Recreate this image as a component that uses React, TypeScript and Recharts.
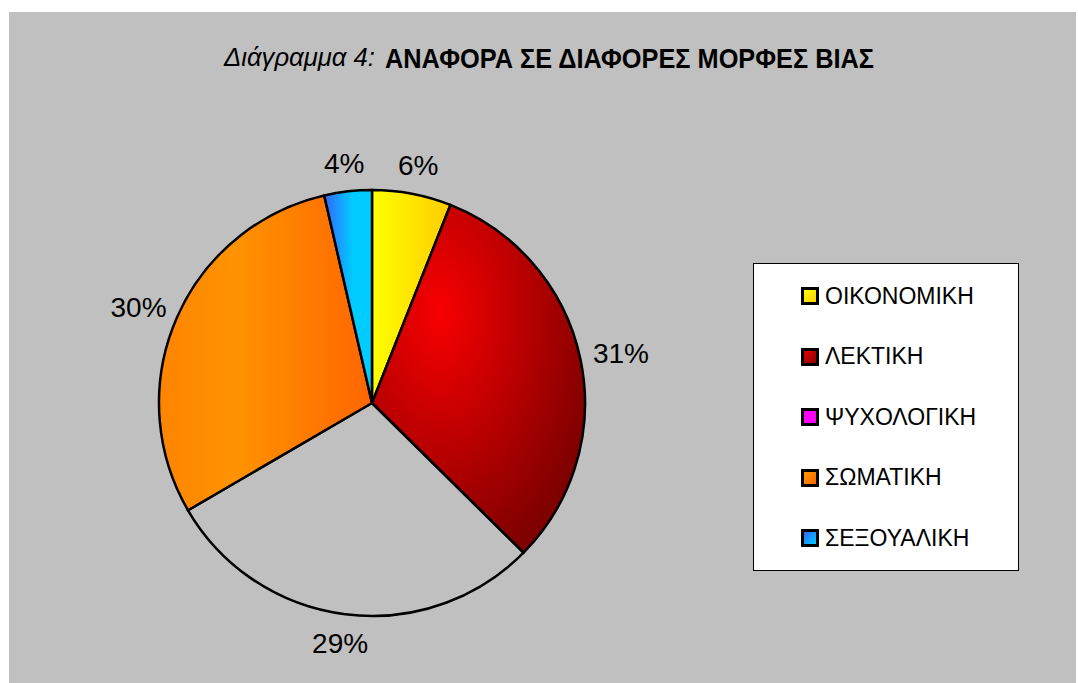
import { PieChart, Pie, Cell, Legend } from "recharts";

// ─── Data ─────────────────────────────────────────────────────────────────────

const categories = ["ΟΙΚΟΝΟΜΙΚΗ", "ΛΕΚΤΙΚΗ", "ΨΥΧΟΛΟΓΙΚΗ", "ΣΩΜΑΤΙΚΗ", "ΣΕΞΟΥΑΛΙΚΗ"];
const shares = [6.0, 31.4, 29.2, 29.8, 3.6];

const sliceFills = ["url(#gYellow)", "url(#gRed)", "transparent", "url(#gOrange)", "url(#gBlue)"];
const legendFills = [
  "linear-gradient(135deg, #ffff00, #ffcc00)",
  "linear-gradient(135deg, #e00000, #900000)",
  "#ff00ff",
  "linear-gradient(135deg, #ff9900, #ff6600)",
  "linear-gradient(135deg, #3366ff, #00ccff)",
];

const pieData = categories.map((name, i) => ({ name, value: shares[i] }));

const FONT = "'Liberation Sans', Arial, sans-serif";
const NARROW = "'Liberation Sans Narrow', 'Liberation Sans', Arial, sans-serif";
const RADIAN = Math.PI / 180;

// ─── Labels ───────────────────────────────────────────────────────────────────

const renderLabel = (props: any) => {
  const { cx, cy, midAngle, outerRadius, percent } = props;
  const dx = Math.cos(-midAngle * RADIAN);
  const dy = Math.sin(-midAngle * RADIAN);
  const text = `${Math.round(percent * 100)}%`;
  const halfW = (text.length * 15.6) / 2;
  const x = cx + dx * (outerRadius + 18) + dx * halfW;
  const y = cy + dy * (outerRadius + 18) + dy * 11;
  return (
    <text x={x} y={y + 10} textAnchor="middle" fontFamily={FONT} fontSize={28} fill="#000">
      {text}
    </text>
  );
};

// ─── Legend ───────────────────────────────────────────────────────────────────

const renderLegend = () => (
  <div
    style={{
      width: 264,
      height: 306,
      background: "#fff",
      border: "1px solid #000",
      position: "relative",
      fontFamily: FONT,
    }}
  >
    {categories.map((c, i) => (
      <div
        key={c}
        style={{
          position: "absolute",
          left: 47,
          top: 32 + i * 60.5 - 12,
          height: 24,
          display: "flex",
          alignItems: "center",
          whiteSpace: "nowrap",
        }}
      >
        <span
          style={{
            display: "inline-block",
            width: 12,
            height: 12,
            border: "3px solid #000",
            background: legendFills[i],
          }}
        />
        <span style={{ marginLeft: 6, fontSize: 23, color: "#000" }}>{c}</span>
      </div>
    ))}
  </div>
);

export default function App() {
  return (
    <div style={{ position: "absolute", left: 0, top: 0, width: 1078, height: 683, background: "#fff" }}>
      <div style={{ position: "absolute", left: 9, top: 12, width: 1067, height: 671, background: "#c0c0c0" }} />
      <svg width={1078} height={120} style={{ position: "absolute", left: 0, top: 0 }}>
        <text x={224} y={66} fontFamily={NARROW} fontStyle="italic" fontSize={25} textLength={151} lengthAdjust="spacingAndGlyphs">
          Διάγραμμα 4:
        </text>
        <text x={385} y={68} fontFamily={NARROW} fontWeight="bold" fontSize={28} textLength={489} lengthAdjust="spacingAndGlyphs">
          ΑΝΑΦΟΡΑ ΣΕ ΔΙΑΦΟΡΕΣ ΜΟΡΦΕΣ ΒΙΑΣ
        </text>
      </svg>
      <div style={{ position: "absolute", left: 0, top: 0 }}>
        <PieChart width={1078} height={683} margin={{ top: 0, right: 0, bottom: 0, left: 0 }}>
          <defs>
            <linearGradient id="gYellow" x1="0" y1="0" x2="1" y2="0">
              <stop offset="0%" stopColor="#ffff00" />
              <stop offset="100%" stopColor="#ffcc00" />
            </linearGradient>
            <radialGradient id="gRed" cx="0.32" cy="0.31" r="0.75">
              <stop offset="0%" stopColor="#f80000" />
              <stop offset="100%" stopColor="#800000" />
            </radialGradient>
            <linearGradient id="gOrange" x1="0" y1="0" x2="1" y2="0">
              <stop offset="0%" stopColor="#ff8400" />
              <stop offset="35%" stopColor="#ff9300" />
              <stop offset="100%" stopColor="#ff6600" />
            </linearGradient>
            <linearGradient id="gBlue" x1="0" y1="0" x2="1" y2="0">
              <stop offset="0%" stopColor="#3366ff" />
              <stop offset="60%" stopColor="#00ccff" />
              <stop offset="100%" stopColor="#00ccff" />
            </linearGradient>
          </defs>
          <Pie
            data={pieData}
            dataKey="value"
            nameKey="name"
            cx={372}
            cy={403}
            outerRadius={213}
            startAngle={90}
            endAngle={-270}
            stroke="#000"
            strokeWidth={2.5}
            label={renderLabel}
            labelLine={false}
            isAnimationActive={false}
          >
            {pieData.map((d, i) => (
              <Cell key={d.name} fill={sliceFills[i]} />
            ))}
          </Pie>
          <Legend
            content={renderLegend}
            layout="vertical"
            align="right"
            verticalAlign="top"
            wrapperStyle={{ position: "absolute", left: 753, top: 263, width: 266, height: 308 }}
          />
        </PieChart>
      </div>
    </div>
  );
}
